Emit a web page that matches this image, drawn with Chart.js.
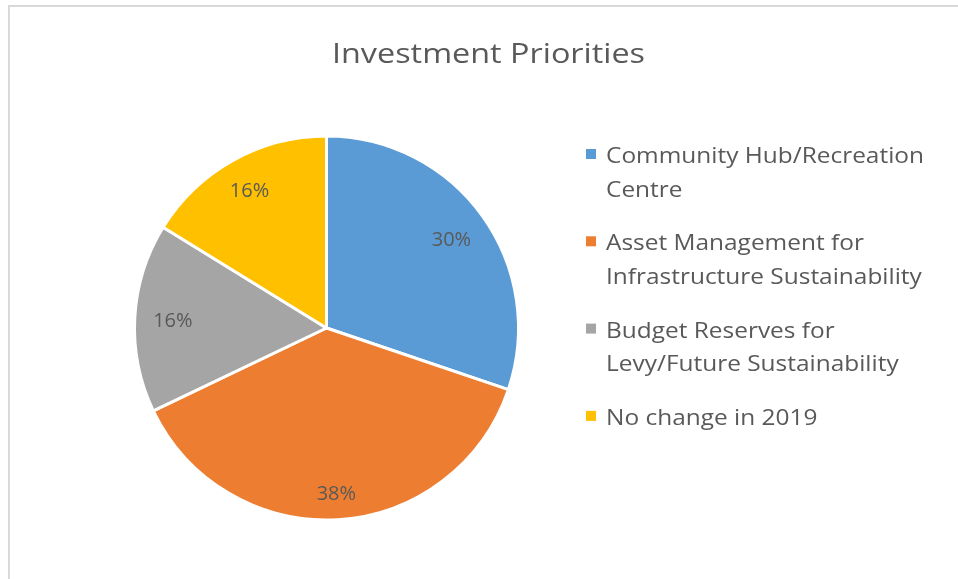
<!DOCTYPE html>
<html>
<head>
<meta charset="utf-8">
<script src="https://cdn.jsdelivr.net/npm/chart.js@4/dist/chart.umd.min.js"></script>
<style>
  html, body { margin: 0; padding: 0; background: #ffffff; }
  #wrap { width: 958px; height: 579px; position: relative; }
</style>
</head>
<body>
<div id="wrap"><canvas id="c" width="958" height="579"></canvas></div>
<script>
// ---- data ----
const chartTitle = 'Investment Priorities';
const categories = [
  'Community Hub/Recreation Centre',
  'Asset Management for Infrastructure Sustainability',
  'Budget Reserves for Levy/Future Sustainability',
  'No change in 2019'
];
const legendLines = [
  ['Community Hub/Recreation', 'Centre'],
  ['Asset Management for', 'Infrastructure Sustainability'],
  ['Budget Reserves for', 'Levy/Future Sustainability'],
  ['No change in 2019']
];
const shares = [30.2, 37.7, 15.9, 16.2];
const sliceColors = ['#5B9BD5', '#ED7D31', '#A5A5A5', '#FFC000'];

// ---- style ----
const FONT = '"Open Sans", "Liberation Sans", sans-serif';
const TEXT = '#595959';
const BW = 3;

function fitText(ctx, text, x, y, size, targetW, align) {
  ctx.font = size + 'px ' + FONT;
  const w = ctx.measureText(text).width;
  const s = targetW ? targetW / w : 1;
  ctx.save();
  ctx.translate(x, y);
  ctx.scale(s, 1);
  ctx.textAlign = align || 'left';
  ctx.fillText(text, 0, 0);
  ctx.restore();
  return s;
}

const decor = {
  id: 'decor',
  beforeDraw(chart) {
    const ctx = chart.ctx;
    ctx.save();
    ctx.fillStyle = '#ffffff';
    ctx.fillRect(0, 0, chart.width, chart.height);
    ctx.strokeStyle = '#D9D9D9';
    ctx.lineWidth = 2;
    ctx.beginPath();
    ctx.moveTo(9, chart.height);
    ctx.lineTo(9, 6);
    ctx.lineTo(chart.width, 6);
    ctx.stroke();
    ctx.restore();
  },
  afterDraw(chart) {
    const ctx = chart.ctx;
    ctx.save();
    ctx.fillStyle = TEXT;
    ctx.textBaseline = 'alphabetic';
    // title
    ctx.font = '28px ' + FONT;
    const tw = ctx.measureText(chartTitle).width;
    const ts = 313 / tw;
    ctx.save();
    ctx.translate(488.5, 63);
    ctx.scale(ts, 1);
    ctx.textAlign = 'center';
    ctx.fillText(chartTitle, 0, 0);
    ctx.restore();

    // legend
    ctx.font = '22px ' + FONT;
    const ls = 318 / ctx.measureText(legendLines[0][0]).width;
    let base = 163;
    legendLines.forEach((lines, i) => {
      ctx.fillStyle = sliceColors[i];
      ctx.fillRect(586, base - 14, 10, 10);
      ctx.fillStyle = TEXT;
      lines.forEach((ln, j) => {
        ctx.save();
        ctx.translate(606, base + j * 33.5);
        ctx.scale(ls, 1);
        ctx.textAlign = 'left';
        ctx.fillText(ln, 0, 0);
        ctx.restore();
      });
      base += 87.3;
    });

    // data labels
    const meta = chart.getDatasetMeta(0);
    const total = shares.reduce((a, b) => a + b, 0);
    ctx.font = '20px ' + FONT;
    meta.data.forEach((arc, i) => {
      const p = arc.getProps(['x', 'y', 'startAngle', 'endAngle', 'outerRadius']);
      const mid = (p.startAngle + p.endAngle) / 2;
      const txt = Math.round(shares[i] / total * 100) + '%';
      const w = ctx.measureText(txt).width;
      const h = 14.5;
      const c = Math.cos(mid), s = Math.sin(mid);
      const rTarget = (p.outerRadius - BW / 2) * 0.913;
      const r = rTarget - (Math.abs(c) * w / 2 + Math.abs(s) * h / 2);
      const cx = p.x + c * r, cy = p.y + s * r;
      ctx.textAlign = 'center';
      ctx.fillText(txt, cx, cy + h / 2);
    });
    ctx.restore();
  }
};

new Chart(document.getElementById('c'), {
  type: 'pie',
  data: {
    labels: categories,
    datasets: [{
      data: shares,
      backgroundColor: sliceColors,
      borderColor: '#ffffff',
      borderWidth: BW
    }]
  },
  options: {
    responsive: false,
    animation: false,
    layout: { padding: { left: 133, right: 438, top: 134.5, bottom: 57.5 } },
    plugins: {
      legend: { display: false },
      title: { display: false },
      tooltip: { enabled: false }
    }
  },
  plugins: [decor]
});
</script>
</body>
</html>
